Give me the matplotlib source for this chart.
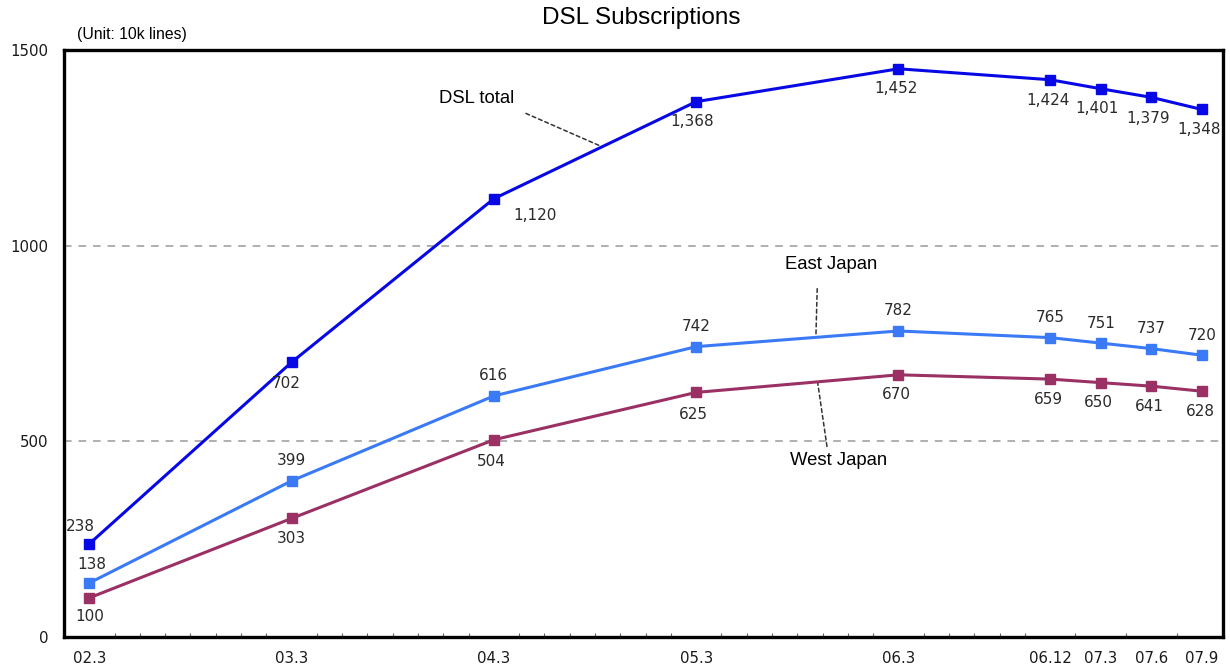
import matplotlib
matplotlib.use("Agg")
from matplotlib import pyplot as plt
from matplotlib.ticker import MultipleLocator

plt.rcParams['font.family'] = ['Liberation Sans', 'DejaVu Sans']

# months since March 2002 for each survey point
months = [0, 12, 24, 36, 48, 57, 60, 63, 66]
period_labels = ["02.3", "03.3", "04.3", "05.3", "06.3", "06.12", "07.3", "07.6", "07.9"]

# subscriptions in 10k lines
dsl_total = [238, 702, 1120, 1368, 1452, 1424, 1401, 1379, 1348]
east_japan = [138, 399, 616, 742, 782, 765, 751, 737, 720]
west_japan = [100, 303, 504, 625, 670, 659, 650, 641, 628]

num_font = "DejaVu Sans"

fig = plt.figure(figsize=(12.3, 6.68), dpi=100)
ax = fig.add_axes([0.05203, 0.04641, 0.94228, 0.87874])

ax.plot(months, dsl_total, color="#0808e6", lw=2.2, marker="s", ms=7.5, zorder=4)
ax.plot(months, east_japan, color="#3b7af6", lw=2.2, marker="s", ms=7.5, zorder=4)
ax.plot(months, west_japan, color="#9a3064", lw=2.2, marker="s", ms=7.5, zorder=4)

ax.set_xlim(-1.5, 67.25)
ax.set_ylim(0, 1500)

for y in (500, 1000):
    ax.axhline(y, color="#9a9a9a", lw=1.1, ls=(0, (5, 4.5)), zorder=1)

ax.set_yticks([0, 500, 1000, 1500])
ax.set_xticks(months)
ax.set_xticklabels(period_labels)
ax.xaxis.set_minor_locator(MultipleLocator(1.5))
ax.tick_params(axis="y", length=0, pad=11.5, labelsize=10.8, labelcolor="#1a1a1a")
ax.tick_params(axis="x", which="major", length=0, pad=10, labelsize=10.8, labelcolor="#1a1a1a")
ax.tick_params(axis="x", which="minor", direction="in", length=3, width=0.8, color="#666666")
for lbl in ax.get_xticklabels() + ax.get_yticklabels():
    lbl.set_fontfamily(num_font)
for side in ax.spines.values():
    side.set_linewidth(2.4)
    side.set_color("black")

# value labels, offsets in pixels from each marker
dsl_off = [(-9, 17), (-5, -21), (41, -17), (-4, -20), (-2, -20), (-2, -21), (-4, -20), (-3, -21), (-3, -20)]
east_off = [(3, 18)] + [(0, 20)] * 8
west_off = [(0, -19), (0, -20), (-3, -22), (-3, -22), (-2, -20), (-2, -20), (-2, -20), (-2, -20), (-2, -20)]

for series, offs in ((dsl_total, dsl_off), (east_japan, east_off), (west_japan, west_off)):
    for x, v, (dx, dy) in zip(months, series, offs):
        ax.annotate(f"{v:,}", (x, v), xytext=(dx, dy), textcoords="offset pixels",
                    ha="center", va="center", fontsize=11, family=num_font,
                    color="#2a2a2a", zorder=5)

# series names with dashed leader lines
leader = dict(arrowstyle="-", color="#333333", lw=1.1, ls=(0, (2.5, 2)), shrinkA=0, shrinkB=0)
ax.annotate("DSL total", xy=(30.3, 1255), xytext=(23.0, 1377), fontsize=13.3,
            ha="center", va="center", arrowprops=dict(leader, relpos=(1.15, -0.4)))
ax.annotate("East Japan", xy=(43.1, 766), xytext=(44.0, 951), fontsize=13.3,
            ha="center", va="center", arrowprops=dict(leader, relpos=(0.35, -0.9)))
ax.annotate("West Japan", xy=(43.2, 652), xytext=(44.45, 452), fontsize=13.3,
            ha="center", va="center", arrowprops=dict(leader, relpos=(0.38, 1.3)))

fig.text(641 / 1230, 1 - 18 / 668, "DSL Subscriptions", ha="center", va="center", fontsize=17.5)
fig.text(132 / 1230, 1 - 34 / 668, "(Unit: 10k lines)", ha="center", va="center", fontsize=11.3)

fig.savefig("out.png", dpi=100)
